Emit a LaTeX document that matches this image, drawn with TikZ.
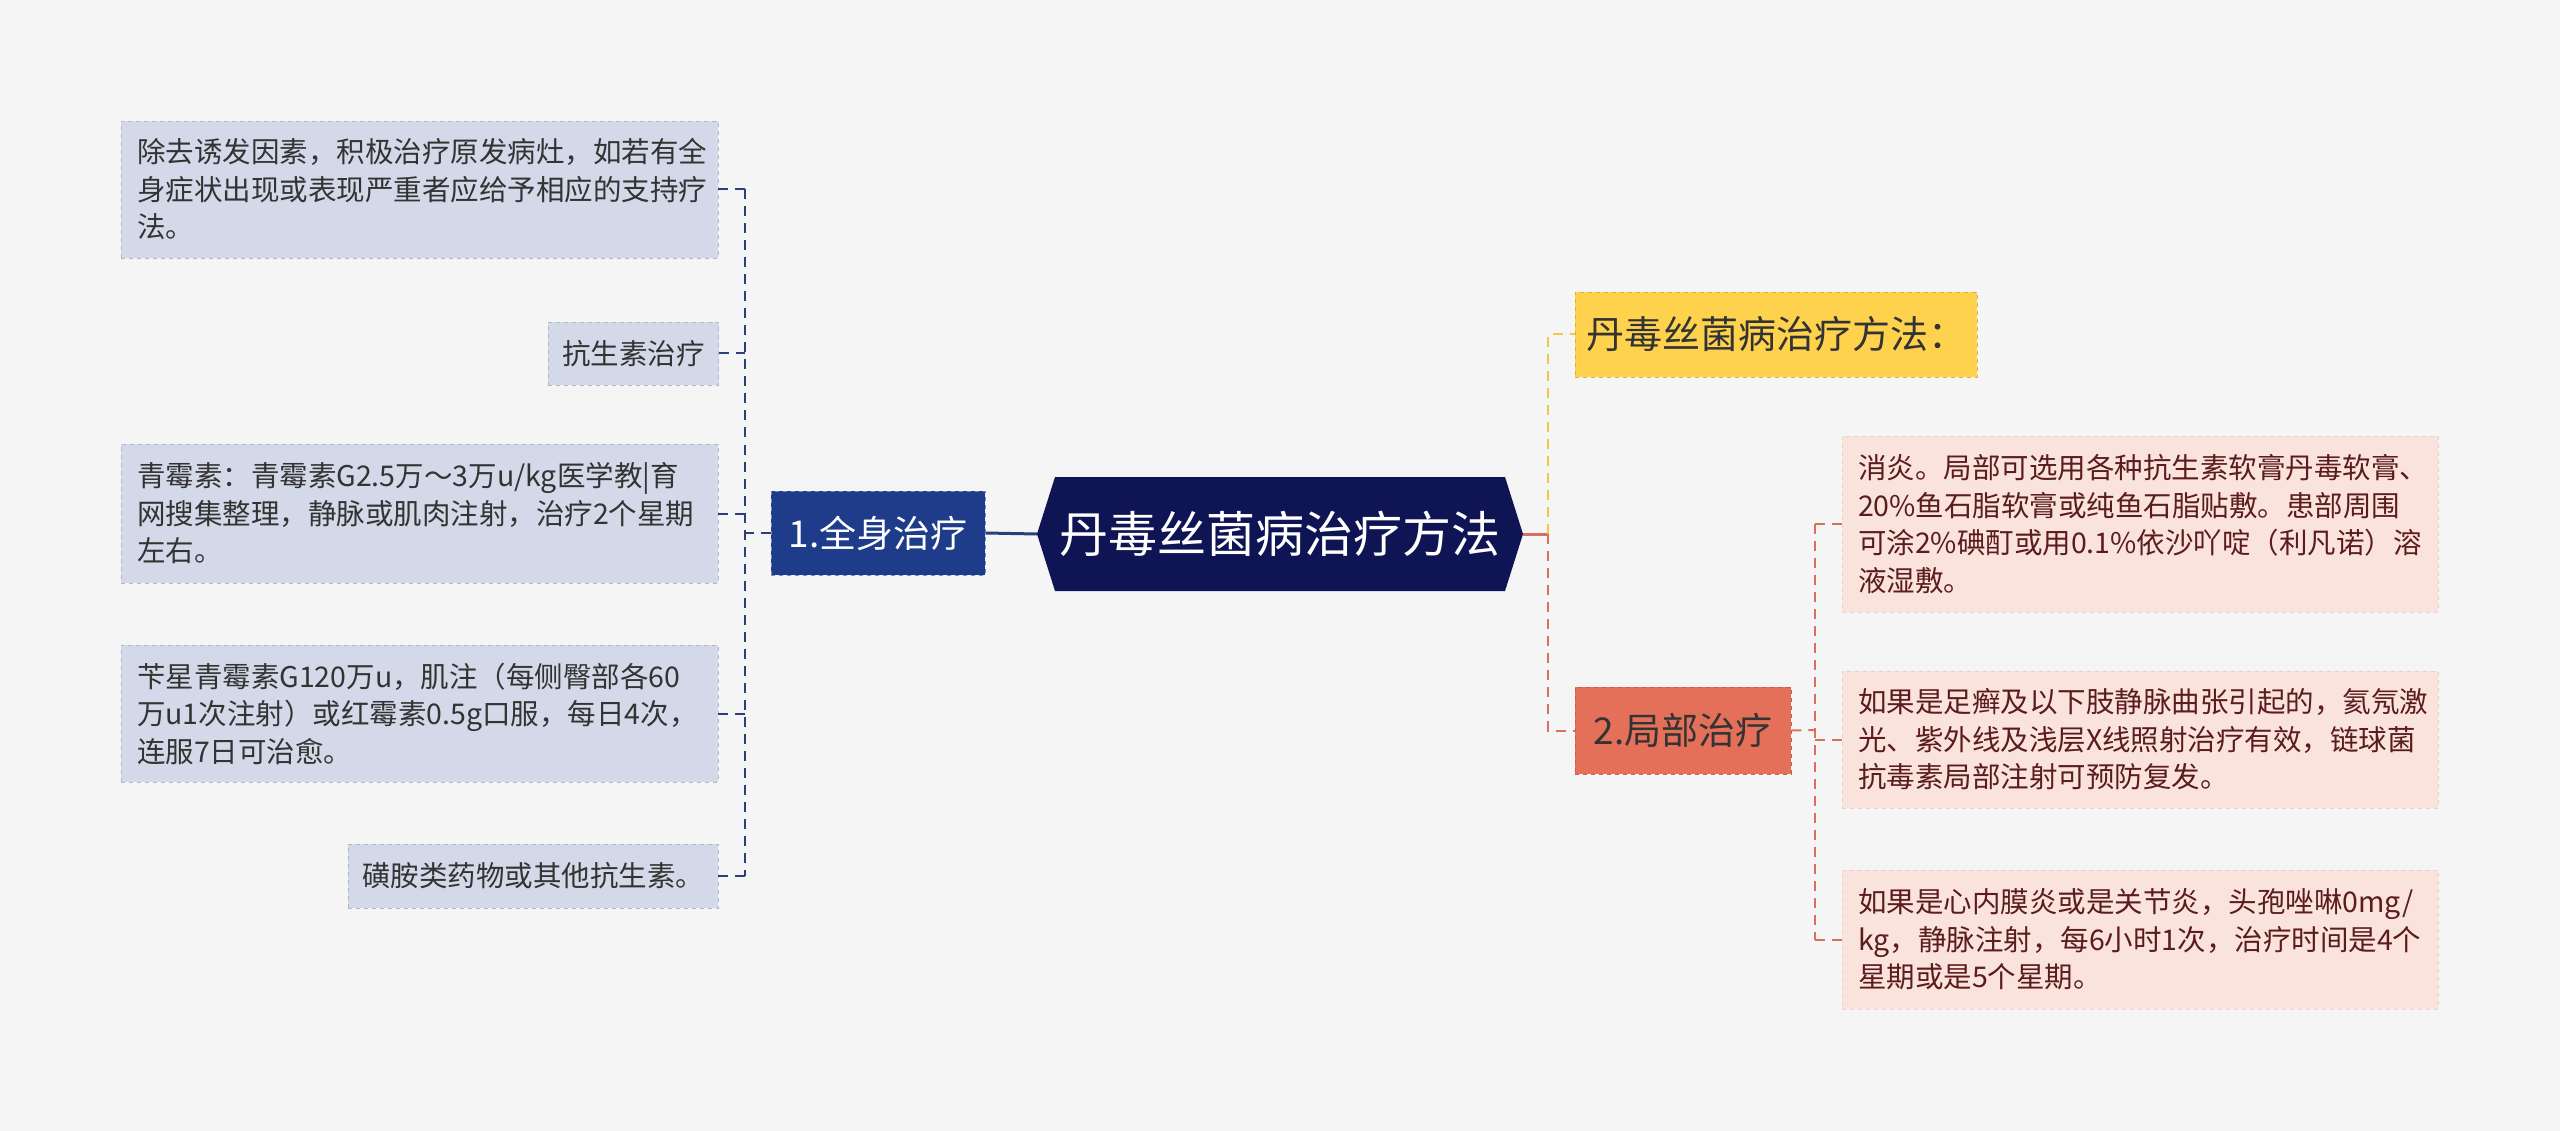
\documentclass[tikz,border=0pt]{standalone}
\usepackage{fontspec}
\setmainfont{Noto Sans CJK SC}
\begin{document}
\begin{tikzpicture}[x=1pt,y=-1pt,
  lbox/.style={fill=lb,draw=lb!85!black,dash pattern=on 4pt off 4pt,line width=0.8pt,inner xsep=16pt,inner ysep=0pt,align=left,font=\fontsize{28.5}{37.5}\selectfont,text=tx},
  rbox/.style={fill=rb,draw=rb!92!black,dash pattern=on 4pt off 4pt,line width=0.8pt,inner xsep=16pt,inner ysep=0pt,align=left,font=\fontsize{28.5}{37.5}\selectfont,text=rt},
  lcon/.style={draw=lc,line width=2pt,dash pattern=on 10pt off 7pt},
  rcon/.style={draw=oc,line width=2pt,dash pattern=on 10pt off 7pt}]
\definecolor{bg}{HTML}{F5F5F5}
\definecolor{lb}{HTML}{D3D9E8}
\definecolor{rb}{HTML}{FBE3DD}
\definecolor{tx}{HTML}{333333}
\definecolor{rt}{HTML}{5A1C1C}
\definecolor{lc}{HTML}{2B3F7C}
\definecolor{oc}{HTML}{D9705A}
\definecolor{yc}{HTML}{F2C744}
\definecolor{nav}{HTML}{0E1454}
\definecolor{bl}{HTML}{1E3C8A}
\definecolor{yb}{HTML}{FFD24D}
\definecolor{ob}{HTML}{E5705A}
\fill[bg] (0,0) rectangle (2560,1131);
\useasboundingbox (0,0) rectangle (2560,1131);
% left boxes
\node[lbox,minimum width=597pt,minimum height=137pt,text width=565pt] (l1) at (419.5,189.5) {除去诱发因素，积极治疗原发病灶，如若有全\\身症状出现或表现严重者应给予相应的支持疗\\法。};
\node[lbox,inner xsep=14pt,minimum width=169pt,minimum height=63pt] (l2) at (633.5,353.5) {抗生素治疗};
\node[lbox,minimum width=597pt,minimum height=139pt,text width=565pt] (l3) at (419.5,513.5) {青霉素：青霉素G2.5万～3万u/kg医学教|育\\网搜集整理，静脉或肌肉注射，治疗2个星期\\左右。};
\node[lbox,minimum width=597pt,minimum height=137pt,text width=565pt] (l4) at (419.5,713.5) {苄星青霉素G120万u，肌注（每侧臀部各60\\万u1次注射）或红霉素0.5g口服，每日4次，\\连服7日可治愈。};
\node[lbox,inner xsep=14pt,minimum width=370pt,minimum height=64pt] (l5) at (533,876) {磺胺类药物或其他抗生素。};
% center
\fill[nav] (1037,534) -- (1055,477) -- (1505,477) -- (1523,534) -- (1505,591) -- (1055,591) -- cycle;
\node[text=white,font=\fontsize{49}{56}\selectfont] (c) at (1280,534) {丹毒丝菌病治疗方法};
\coordinate (cl) at (1037,534);
\coordinate (cr) at (1523,534);
% level 1
\node[fill=bl,draw=bl!60!white,dash pattern=on 4pt off 4pt,line width=1pt,text=white,font=\fontsize{37}{42}\selectfont,minimum width=214pt,minimum height=84pt] (a) at (878,533) {1.全身治疗};
\node[fill=yb,draw=yb!85!black,dash pattern=on 4pt off 4pt,line width=0.8pt,text=tx,font=\fontsize{38}{42}\selectfont,minimum width=402pt,minimum height=85pt] (y) at (1776,334.5) {丹毒丝菌病治疗方法：};
\node[fill=ob,draw=ob!85!black,dash pattern=on 4pt off 4pt,line width=0.8pt,text=tx,font=\fontsize{37}{42}\selectfont,minimum width=216pt,minimum height=87pt] (b) at (1683,730.5) {2.局部治疗};
% right boxes
\node[rbox,minimum width=596pt,minimum height=176pt,text width=564pt] (r1) at (2140,524) {消炎。局部可选用各种抗生素软膏丹毒软膏、\\20\%鱼石脂软膏或纯鱼石脂贴敷。患部周围\\可涂2\%碘酊或用0.1\%依沙吖啶（利凡诺）溶\\液湿敷。};
\node[rbox,minimum width=596pt,minimum height=137pt,text width=564pt] (r2) at (2140,739.5) {如果是足癣及以下肢静脉曲张引起的，氦氖激\\光、紫外线及浅层X线照射治疗有效，链球菌\\抗毒素局部注射可预防复发。};
\node[rbox,minimum width=596pt,minimum height=139pt,text width=564pt] (r3) at (2140,939.5) {如果是心内膜炎或是关节炎，头孢唑啉0mg/\\kg，静脉注射，每6小时1次，治疗时间是4个\\星期或是5个星期。};
% connectors
\draw[draw=lc,line width=3pt] (cl) -- (a.east);
\coordinate (lv) at (745,533);
\draw[lcon] (a.west) -- (lv);
\draw[lcon] (l1.east -| lv) -- (l5.east -| lv);
\foreach \n in {l1,l2,l3,l4,l5}{\draw[lcon] (\n.east) -- (\n.east -| lv);}
\coordinate (rv) at (1548,534);
\draw[draw=oc,line width=3pt] (cr) -- (rv);
\draw[draw=yc,line width=2pt,dash pattern=on 10pt off 7pt] (rv) -- (rv |- y.west) -- (y.west);
\draw[rcon] (rv) -- (rv |- b.west) -- (b.west);
\coordinate (bv) at (1815,730);
\draw[rcon] (b.east) -- (bv);
\draw[rcon] (r1.west -| bv) -- (r3.west -| bv);
\foreach \n in {r1,r2,r3}{\draw[rcon] (\n.west) -- (\n.west -| bv);}
\end{tikzpicture}
\end{document}
